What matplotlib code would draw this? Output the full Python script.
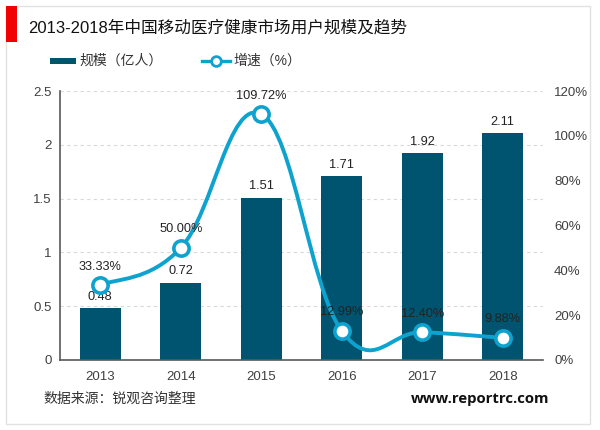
import matplotlib
matplotlib.use("Agg")
import matplotlib.pyplot as plt
from matplotlib.patches import Rectangle, PathPatch
from matplotlib.path import Path
from matplotlib.lines import Line2D
import numpy as np

plt.rcParams['font.family'] = ['Liberation Sans', 'Noto Sans CJK SC', 'DejaVu Sans']

years = ['2013', '2014', '2015', '2016', '2017', '2018']
scale = [0.48, 0.72, 1.51, 1.71, 1.92, 2.11]
growth = [33.33, 50.00, 109.72, 12.99, 12.40, 9.88]
scale_ticks = [0, 0.5, 1, 1.5, 2, 2.5]
scale_tick_labels = ['0', '0.5', '1', '1.5', '2', '2.5']
growth_ticks = [0, 20, 40, 60, 80, 100, 120]

NAVY = '#00546F'
CYAN = '#0EA3CF'
GREY = '#404040'
W, H = 600, 430

fig = plt.figure(figsize=(W / 100, H / 100), dpi=100)
fig.patch.set_facecolor('white')

# frame and title band
fig.add_artist(Rectangle((6 / W, 1 - 424 / H), 584 / W, 418 / H, transform=fig.transFigure,
                         fc='white', ec='#E2E2E2', lw=1, zorder=-2))
fig.add_artist(Rectangle((6 / W, 1 - 42 / H), 11 / W, 36 / H, transform=fig.transFigure,
                         fc='#F00000', ec='none', zorder=-1))
fig.text(28 / W, 1 - 27 / H, '2013-2018年中国移动医疗健康市场用户规模及趋势',
         fontsize=12.0, color='#111111', va='center', ha='left')

L, R, T, B = 60, 543, 91, 360
ax = fig.add_axes([L / W, 1 - B / H, (R - L) / W, (B - T) / H])
ax.set_xlim(-0.5, 5.5)
ax.set_ylim(0, 2.5)
x = np.arange(len(years))
ax.bar(x, scale, width=0.51, color=NAVY, zorder=2)
ax.set_xticks(x, years)
ax.set_yticks(scale_ticks, scale_tick_labels)
ax.tick_params(axis='both', length=0, labelsize=9.5, labelcolor=GREY)
ax.tick_params(axis='x', pad=8)
ax.tick_params(axis='y', pad=6)
ax.yaxis.grid(True, color='#D9D9D9', ls=(0, (3, 3)), lw=0.8, zorder=0)
ax.set_axisbelow(True)
for s in ['top', 'right']:
    ax.spines[s].set_visible(False)
for s in ['left', 'bottom']:
    ax.spines[s].set_color('#595959')
    ax.spines[s].set_linewidth(1.2)

for xi, v in zip(x, scale):
    ax.text(xi, v + 0.05, f'{v:.2f}', ha='center', va='bottom', fontsize=9.2, color='#222222', zorder=6)

ax2 = ax.twinx()
ax2.set_ylim(0, 120)
ax2.set_yticks(growth_ticks, [f'{g}%' for g in growth_ticks])
ax2.tick_params(axis='y', length=0, labelsize=9.5, labelcolor=GREY, pad=8)
for s in ax2.spines.values():
    s.set_visible(False)

# smoothed line: Bezier segments derived from the values
g = np.array(growth)
verts = [(x[0], g[0])]
codes = [Path.MOVETO]
k = 0.2
for i in range(len(x) - 1):
    p0 = np.array([x[max(i - 1, 0)], g[max(i - 1, 0)]])
    p1 = np.array([x[i], g[i]])
    p2 = np.array([x[i + 1], g[i + 1]])
    p3 = np.array([x[min(i + 2, len(x) - 1)], g[min(i + 2, len(x) - 1)]])
    verts += [tuple(p1 + (p2 - p0) * k), tuple(p2 - (p3 - p1) * k), tuple(p2)]
    codes += [Path.CURVE4] * 3
ax2.add_patch(PathPatch(Path(verts, codes), fc='none', ec=CYAN, lw=2.8, zorder=4, capstyle='round'))
ax2.plot(x, g, ls='none', marker='o', ms=11, mfc='white', mec=CYAN, mew=2.6, zorder=5)

for xi, v in zip(x, growth):
    ax2.annotate(f'{v:.2f}%', (xi, v), xytext=(0, 9), textcoords='offset points', ha='center',
                 va='bottom', fontsize=9.2, color='#222222', zorder=6)

# legend
fig.add_artist(Rectangle((50 / W, 1 - 64 / H), 26 / W, 6 / H, transform=fig.transFigure, fc=NAVY, ec='none'))
fig.text(79 / W, 1 - 61 / H, '规模（亿人）', fontsize=10, color='#333333', va='center')
fig.add_artist(Line2D([202 / W, 230 / W], [1 - 61 / H] * 2, transform=fig.transFigure, color=CYAN, lw=2.4, zorder=3))
fig.add_artist(Line2D([216 / W], [1 - 61 / H], transform=fig.transFigure, color=CYAN, ls='none', marker='o', ms=7,
                      mfc='white', mec=CYAN, mew=2, zorder=4))
fig.text(233 / W, 1 - 61 / H, '增速（%）', fontsize=10, color='#333333', va='center')

# footer
fig.text(43 / W, 1 - 399 / H, '数据来源：锐观咨询整理', fontsize=10, color='#333333', va='center')
fig.text(549 / W, 1 - 399 / H, 'www.reportrc.com', fontsize=10.7, color='#111111', va='center', ha='right',
         fontweight='bold', family=['Open Sans', 'DejaVu Sans'])

fig.savefig('out.png', dpi=100)
